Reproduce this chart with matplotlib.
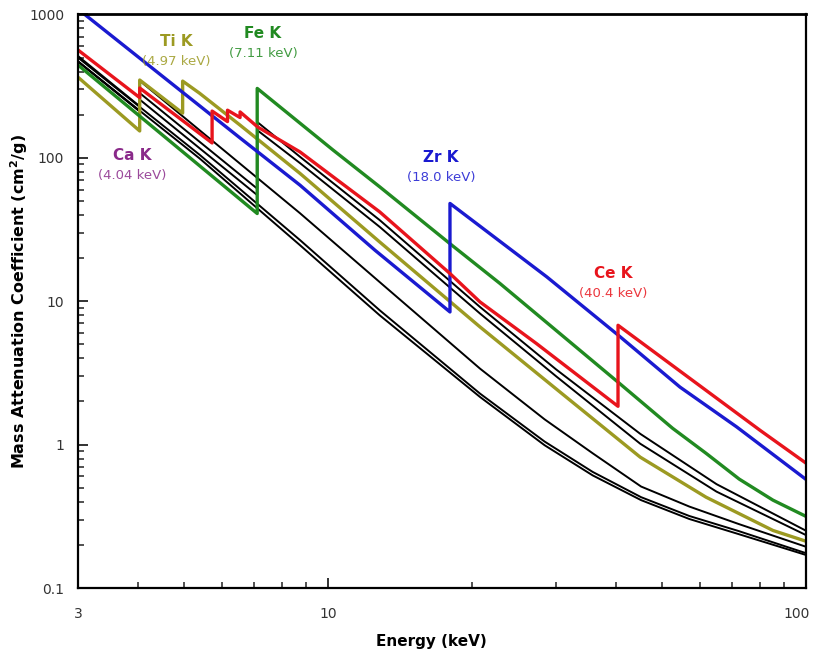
import matplotlib
matplotlib.use("Agg")
import matplotlib.pyplot as plt
import matplotlib.transforms as mtransforms
from matplotlib.ticker import LogLocator, NullFormatter, FixedLocator, FixedFormatter

# ---- data (energy keV, mass attenuation cm^2/g); edges as repeated energies ----
zr_E  = [3.0, 6.55, 8.74, 12.54, 18.0, 18.0, 28.7, 40.5, 54.5, 71.6, 100.0]
zr_mu = [1090, 137.5, 64.5, 22.7, 8.42, 48.1, 14.78, 5.79, 2.52, 1.33, 0.572]

ce_E  = [3.0, 4.038, 4.038, 5.723, 5.723, 6.164, 6.164, 6.549, 6.549, 7.13, 8.74, 12.83, 18.0, 20.8, 27.3, 40.44, 40.44, 80.2, 100.0]
ce_mu = [565, 263, 307, 127, 212, 179, 215, 191, 209, 164, 110, 42.0, 15.6, 9.89, 5.07, 1.85, 6.80, 1.257, 0.743]

fe_E  = [3.0, 7.112, 7.112, 10.25, 12.83, 18.16, 22.9, 40.8, 52.6, 61.8, 72.5, 85.3, 100.0]
fe_mu = [444, 40.9, 305, 113.3, 62.8, 24.6, 13.3, 2.66, 1.30, 0.87, 0.575, 0.41, 0.316]

ti_E  = [3.0, 4.038, 4.038, 4.966, 4.966, 5.39, 6.55, 8.74, 12.83, 20.8, 32.1, 45.0, 61.8, 85.3, 100.0]
ti_mu = [365, 154, 349, 205, 343, 282, 169, 77.9, 25.9, 6.62, 2.04, 0.818, 0.43, 0.252, 0.212]

b1_E  = [3.0, 4.038, 4.038, 7.112, 7.112, 8.74, 12.83, 20.8, 30.0, 45.0, 65.0, 100.0]
b1_mu = [513, 229, 283, 61, 178, 101.7, 36.8, 9.12, 3.35, 1.19, 0.53, 0.251]
b2_E  = [3.0, 4.038, 4.038, 7.112, 7.112, 8.74, 12.83, 20.8, 30.0, 45.0, 65.0, 100.0]
b2_mu = [470, 211, 255, 55, 156, 91.9, 33.0, 8.21, 3.0, 1.015, 0.47, 0.234]
b3_E  = [3.0, 4.038, 4.038, 8.74, 12.83, 20.8, 28.4, 35.8, 45.2, 57.0, 72.2, 100.0]
b3_mu = [470, 211, 345, 41.1, 13.6, 3.39, 1.5, 0.87, 0.51, 0.37, 0.28, 0.194]
b4_E  = [3.0, 5.39, 8.74, 12.83, 20.8, 28.4, 35.8, 45.2, 57.0, 72.2, 100.0]
b4_mu = [500, 105, 26.7, 8.65, 2.27, 1.05, 0.645, 0.43, 0.318, 0.25, 0.175]
b5_E  = [3.0, 5.39, 8.74, 12.83, 20.8, 28.4, 35.8, 45.2, 57.0, 72.2, 100.0]
b5_mu = [470, 99, 24.6, 7.98, 2.15, 0.99, 0.61, 0.41, 0.303, 0.238, 0.170]

x_ticks = [3, 10, 100]
x_ticklabels = ["3", "10", "100"]
y_ticks = [0.1, 1, 10, 100, 1000]
y_ticklabels = ["0.1", "1", "10", "100", "1000"]

C_RED = "#e8141c"
C_BLUE = "#1a1ad0"
C_GREEN = "#218a21"
C_OLIVE = "#9c9a22"
C_PURPLE = "#8a2a8a"

fig = plt.figure(figsize=(8.16, 6.57), dpi=100)
ax = fig.add_axes([0.0956, 0.105, 0.8921, 0.873])

for E, mu in [(b5_E, b5_mu), (b4_E, b4_mu), (b3_E, b3_mu), (b2_E, b2_mu), (b1_E, b1_mu)]:
    ax.plot(E, mu, color="black", lw=1.4)
ax.plot(ti_E, ti_mu, color=C_OLIVE, lw=2.4)
ax.plot(fe_E, fe_mu, color=C_GREEN, lw=2.4)
ax.plot(zr_E, zr_mu, color=C_BLUE, lw=2.4)
ax.plot(ce_E, ce_mu, color=C_RED, lw=2.4)

ax.set_xscale("log")
ax.set_yscale("log")
ax.set_xlim(3, 100)
ax.set_ylim(0.1, 1000)

ax.xaxis.set_major_locator(FixedLocator(x_ticks))
ax.xaxis.set_major_formatter(FixedFormatter(x_ticklabels))
ax.xaxis.set_minor_locator(LogLocator(base=10, subs=range(2, 10)))
ax.xaxis.set_minor_formatter(NullFormatter())
ax.yaxis.set_major_locator(FixedLocator(y_ticks))
ax.yaxis.set_major_formatter(FixedFormatter(y_ticklabels))
ax.yaxis.set_minor_locator(LogLocator(base=10, subs=range(2, 10)))
ax.yaxis.set_minor_formatter(NullFormatter())

ax.tick_params(which="both", direction="in", top=False, right=False, color="#222222")
ax.tick_params(which="major", length=7, width=1.3, labelsize=10, labelcolor="#333333", pad=10)
ax.tick_params(which="minor", length=4.5, width=1.1)
ax.tick_params(axis="x", which="major", pad=14)
for s in ["left", "bottom", "right"]:
    ax.spines[s].set_linewidth(1.6)
ax.spines["top"].set_linewidth(2.0)

# keep the cut-off "100" inside the figure
lbls = ax.get_xticklabels()
shift = mtransforms.ScaledTranslation(-9 / 100, 0, fig.dpi_scale_trans)
lbls[-1].set_transform(lbls[-1].get_transform() + shift)

ax.set_xlabel("Energy (keV)", fontsize=11, fontweight="bold")
ax.xaxis.set_label_coords(0.485, -0.081)
ax.set_ylabel("Mass Attenuation Coefficient (cm$^\\mathbf{2}$/g)", fontsize=11.5, fontweight="bold")
ax.yaxis.set_label_coords(-0.066, 0.5)

def label(x, y, name, sub, color):
    ax.annotate(name, xy=(x, y), xycoords="figure pixels", ha="center", va="center",
                fontsize=11, fontweight="bold", color=color)
    ax.annotate(sub, xy=(x, y - 20), xycoords="figure pixels", ha="center", va="center",
                fontsize=9.5, color=color, alpha=0.85)

H = 657
label(176, H - 42, "Ti K", "(4.97 keV)", C_OLIVE)
label(263, H - 33, "Fe K", "(7.11 keV)", C_GREEN)
label(132, H - 156, "Ca K", "(4.04 keV)", C_PURPLE)
label(441, H - 158, "Zr K", "(18.0 keV)", C_BLUE)
label(613, H - 273, "Ce K", "(40.4 keV)", C_RED)

fig.savefig("out.png", dpi=100)
